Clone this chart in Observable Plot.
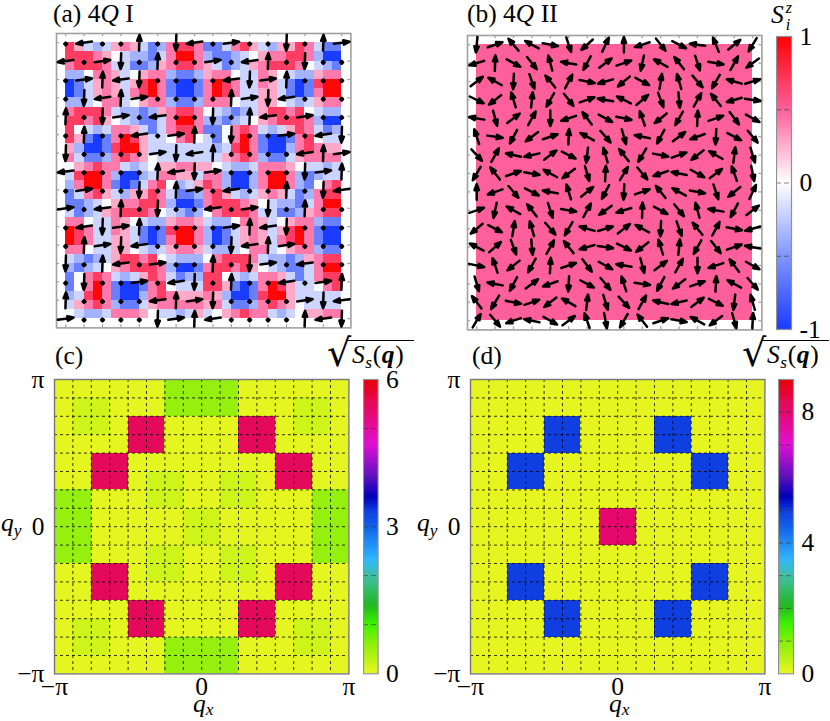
<!DOCTYPE html>
<html>
<head>
<meta charset="utf-8">
<script src="https://cdn.jsdelivr.net/npm/d3@7"></script>
<script src="https://cdn.jsdelivr.net/npm/@observablehq/plot@0.6"></script>
<style>
html,body{margin:0;padding:0;background:#fff;width:830px;height:721px;overflow:hidden}
#fig{position:relative;width:830px;height:721px;font-family:"Liberation Serif",serif;color:#000}
#fig svg{position:absolute;background:transparent;max-width:none}
.t{position:absolute;white-space:nowrap;font-size:25.5px;line-height:1;transform:translateY(-50%)}
.t sub{font-size:.68em;line-height:0;vertical-align:-.28em}
.t sub.x{vertical-align:-.18em}
.t i{font-style:italic}
</style>
</head>
<body>
<div id="fig"></div>
<script>
// ---------- Panel (a): S^z on the refined mesh, one letter per cell, top row first
const szCellsA = [
"GEDCDEFEDBCFGGFBBDFGEDCEEGFDBB",
"GGGFEWDCCBDFHHFCBBCDWEFFGGFCAA",
"FGGGFDDBBCEFGGFEDBCDEFGGGFWDCB",
"CCWFFEDWEFFCBBCEFFWDDFEWDCCEFF",
"ABDEFEDEGHFBAABFHGFDDFEDBABGHH",
"ABDEFEDFGHFBAABFHGFDDEEDBABFHH",
"CCDWFFDWEFFCBBCFFFWDDEEWDCDEFF",
"FGGGFDCCBCEFGGFWDCBCDEGGFGWDCC",
"GGFGEWDCBBDFHHFCCBCDWEFGGGFCAA",
"GWDCDFFEDBDFGGFBBWFGFDCDEGFDBC",
"GEBABFHGEDDWFGWDBWFHFBAABFGWDD",
"ECAABGHHEDDDDDDDCDGHFBAACFGFEE",
"FDBBCFGFEWDDDDDDDEFGFCBBDEFFFF",
"WEFGFFDCDWEEFFEEWDCCDFFFEWDDCD",
"DGHHFCAACDFFEEDFFCAACFHHFCBCDD",
"CFHHFBABDFGWCDEGFCAACFHHFCBWFG",
"BDFGEDCEEGFDBBCFGEDCDEFEDBCFGG",
"BBCDWEFFGGFCAABFGGGFEWDCCBDFHH",
"DBCDEFGGGFWDCBCWFGGGFDDBBCEFGG",
"FFWDDFEWDCCEFFEDCCWFFEDWEFFCBB",
"HGFDDFEDBABGHHFCABDEFEDEGHFBAA",
"HGFDDEEDBABFHHFCABDEFEDFGHFBAA",
"FFWDDEEWDCDEFFEDCCDWFFDWEFFCBB",
"DCBCDEGGFGWDCCCWFGGGFDCCBCEFGG",
"CBCDWEFGGGFCAABFGGFGEWDCBBDFHH",
"BWFGFDCDEGFDBCCGGWDCDFFEDBDFGG",
"BWFHFBAABFGWDDDGGEBABFHGEDDWFG",
"CDGHFBAACFGFEEEFECAABGHHEDDDDD",
"DEFGFCBBDEFFFFFEFDBBCFGFEWDDDD",
"WDCCDFFFEWDDCDEDWEFGFFDCDWEEFF"
];
const szLevels = {A:-1,B:-.62,C:-.36,D:-.2,W:-.02,E:.27,F:.42,G:.68,H:.97};

// Panel (a): in-plane spin per site, "." = mostly out of plane
const spinsA = [
".L..U.DL.R..D.UR","L.RD.U..R.LU.D..",".RULD....LDRU...",".DLUR....URDL...",
"U.DR.L..D.UL.R..",".U..L.RU.D..R.LD","D....RDLU....LUR","L....ULDR....DRU",
".R..D.UR.L..U.DL","R.LU.D..L.RD.U..",".LDRU....RULD...",".URDL....DLUR...",
"D.UL.R..U.DR.L..",".D..R.LD.U..L.RU","U....LURD....RDL","R....DRUL....ULD"
];
const dirAngles = {L:262,R:82,U:2,D:182,".":0};

// Panel (b): uniform S^z and in-plane angle (deg clockwise from up) per site
const szB = 0.5;
const anglesB = [
[186,71,320,299,100,162,228,25, 0,252,142,117,277,338,51,211],
[253,2,119,141,345,280,208,53, 71,192,299,322,162,100,29,234],
[52,299,183,161,321,28,101,254, 230,118,9,344,139,210,286,73],
[116,232,343,6,209,142,71,280, 297,49,160,175,29,321,254,98],
[280,165,53,29,180,252,323,119, 102,341,231,209,3,71,143,119],
[342,98,208,233,71,3,299,139, 164,281,208,53,250,183,118,140],
[137,29,283,257,53,117,187,344, 322,211,101,71,232,300,7,163],
[210,322,71,100,299,233,164,3, 31,140,251,281,119,53,341,169],
[0,251,140,117,281,343,51,208, 183,71,321,299,100,162,231,25],
[71,192,299,322,162,100,29,234, 253,2,119,141,345,280,208,53],
[230,118,9,344,139,210,286,73, 52,299,183,161,321,28,101,254],
[297,49,160,175,29,321,254,98, 116,232,343,6,209,142,71,280],
[102,341,231,209,3,71,143,119, 280,165,53,29,180,252,323,119],
[164,281,208,53,250,183,118,140, 342,98,208,233,71,3,299,139],
[322,211,101,71,232,300,7,163, 137,29,283,257,53,117,187,344],
[31,140,251,281,119,53,341,169, 210,322,71,100,299,233,164,3]
];

// Panels (c), (d): sqrt(S_s(q)) per momentum cell, top row first
const structC = [
"YYYYYYGGGGYYYYYY","YPPYYYGGGGYYYPPY","YPPYRRYYYYRRYPPY","YYYYRRYYYYRRYYYY",
"YYRRYYYYYYYYRRYY","YYRRYPPYYPPYRRYY","GGYYYPPYYPPYYYGG","GGYYYYYPPYYYYYGG",
"GGYYYYYPPYYYYYGG","GGYYYPPYYPPYYYGG","YYRRYPPYYPPYRRYY","YYRRYYYYYYYYRRYY",
"YYYYRRYYYYRRYYYY","YPPYRRYYYYRRYPPY","YPPYYYGGGGYYYPPY","YYYYYYGGGGYYYYYY"
];
const levelsC = {Y:.02,P:.17,G:.55,R:5.5};
const structD = [
"YYYYYYYYYYYYYYYY","YYYYYYYYYYYYYYYY","YYYYBBYYYYBBYYYY","YYYYBBYYYYBBYYYY",
"YYBBYYYYYYYYBBYY","YYBBYYYYYYYYBBYY","YYYYYYYYYYYYYYYY","YYYYYYYRRYYYYYYY",
"YYYYYYYRRYYYYYYY","YYYYYYYYYYYYYYYY","YYBBYYYYYYYYBBYY","YYBBYYYYYYYYBBYY",
"YYYYBBYYYYBBYYYY","YYYYBBYYYYBBYYYY","YYYYYYYYYYYYYYYY","YYYYYYYYYYYYYYYY"
];
const levelsD = {Y:.02,B:4.95,R:8};

// Colour maps
const spinStops = [-1,-.5,0,.5,1];
const spinColors = ["#1a3cff","#8096ff","#ffffff","#ff5f9b","#ff0000"];
const rainbowStops = [0,.1,.17,.23,.33,.385,.5,.55,.6,.67,.78,.89,.92,1];
const rainbowColors = ["#e8f520","#8cf00a","#3cf000","#20b820","#40c0a0","#30b8ff","#1060e8","#0f3fe0","#0000b8","#6010c0","#e010d0","#e5086c","#e5095a","#e60000"];

// Tick labels
const qTicks = [-Math.PI,0,Math.PI];
const qLabels = ["−π","0","π"];

const SERIF = '"Liberation Serif",serif';
const FS = 25.5;
const FRAME = "#a0a0a0";
const fig = document.getElementById("fig");
function place(svg,left,top){svg.style.left=left+"px";svg.style.top=top+"px";fig.appendChild(svg);}
function label(html,left,y){
  const d=document.createElement("div");d.className="t";d.innerHTML=html;
  d.style.left=left+"px";d.style.top=y+"px";fig.appendChild(d);return d;
}

// Arrow with a filled head, drawn through Plot.vector's shape hook
const spinArrow = {draw(ctx,l){
  if(l<5){ctx.moveTo(-1.4,0);ctx.lineTo(0,-1.4);ctx.lineTo(1.4,0);ctx.lineTo(0,1.4);ctx.closePath();return;}
  ctx.moveTo(0,0);ctx.lineTo(0,-l+4);
  ctx.moveTo(-2.2,-l+6);ctx.lineTo(0,-l);ctx.lineTo(2.2,-l+6);ctx.closePath();
}};

const SIZE=294.4, PAD=14;
function sitesFrameMarks(){
  const sites=d3.range(16);
  return [
    Plot.ruleX(sites,{x:d=>d,y1:15.5,y2:15.33,stroke:FRAME,strokeWidth:1.2}),
    Plot.ruleX(sites,{x:d=>d,y1:-.5,y2:-.33,stroke:FRAME,strokeWidth:1.2}),
    Plot.ruleY(sites,{y:d=>d,x1:-.5,x2:-.33,stroke:FRAME,strokeWidth:1.2}),
    Plot.ruleY(sites,{y:d=>d,x1:15.5,x2:15.33,stroke:FRAME,strokeWidth:1.2}),
    Plot.frame({stroke:FRAME,strokeWidth:1.6})
  ];
}
function spinPlot(cells,arrows,sw){
  return Plot.plot({
    width:SIZE+2*PAD,height:SIZE+2*PAD,
    marginTop:PAD,marginBottom:PAD,marginLeft:PAD,marginRight:PAD,
    x:{domain:[-.5,15.5],axis:null},y:{domain:[15.5,-.5],axis:null},
    color:{type:"linear",domain:spinStops,range:spinColors,clamp:true},
    length:{type:"identity"},
    marks:[
      Plot.rect(cells,{x1:"x1",x2:"x2",y1:"y1",y2:"y2",fill:"v",shapeRendering:"crispEdges"}),
      ...sitesFrameMarks(),
      Plot.vector(arrows,{x:"i",y:"j",rotate:"deg",length:"len",anchor:"middle",shape:spinArrow,stroke:"#000",fill:"#000",strokeWidth:sw,strokeLinejoin:"round",strokeLinecap:"round"})
    ]
  });
}
// panel a
const cellsA = szCellsA.flatMap((row,m)=>[...row].map((c,k)=>({x1:k/2,x2:k/2+.5,y1:m/2,y2:m/2+.5,v:szLevels[c]})));
const arrowsA = spinsA.flatMap((row,j)=>[...row].map((c,i)=>({i,j,deg:dirAngles[c],len:c==="."?2.5:15.8})));
place(spinPlot(cellsA,arrowsA,2.5),55.7-PAD,33.3-PAD);
// panel b
const cellsB = [{x1:0,x2:15,y1:0,y2:15,v:szB}];
const arrowsB = anglesB.flatMap((row,j)=>row.map((deg,i)=>({i,j,deg,len:15.5})));
place(spinPlot(cellsB,arrowsB,2.5),467.3-PAD,35.3-PAD);

// colour bars
function colorBar(left,top,h,lo,hi,stops,colors,labelVals,fmt,w,gridVals){
  const levels=d3.range(0,200).map(n=>({a:lo+(hi-lo)*n/200,b:lo+(hi-lo)*(n+1)/200}));
  const m=17;
  const svg=Plot.plot({
    width:w+39,height:h+2*m,marginTop:m,marginBottom:m,marginLeft:0,marginRight:39,
    x:{domain:[0,1],axis:null},y:{domain:[lo,hi]},
    color:{type:"linear",domain:stops,range:colors,clamp:true},
    style:{fontFamily:SERIF,fontSize:FS+"px"},
    marks:[
      Plot.rect(levels,{x1:0,x2:1,y1:"a",y2:"b",fill:d=>(d.a+d.b)/2,shapeRendering:"crispEdges"}),
      Plot.ruleY(gridVals,{stroke:"#333",strokeWidth:.8,strokeDasharray:"5 3",opacity:.75}),
      Plot.frame({stroke:"#909090",strokeWidth:1.2}),
      Plot.axisY({anchor:"right",ticks:labelVals,tickSize:0,tickPadding:8,tickFormat:fmt,fontSize:FS,fontFamily:SERIF,label:null,color:"#000"})
    ]
  });
  place(svg,left,top-m);
}
colorBar(775.7,36,293,-1,1,spinStops,spinColors,[-1,0,1],d=>d===-1?"-1":String(d),15,[-.5,0,.5]);
colorBar(362.7,379,294.3,0,6,rainbowStops.map(f=>f*6),rainbowColors,[0,3,6],String,14.6,[1,2,3,4,5]);
colorBar(778,379,294.3,0,9,rainbowStops.map(f=>f*9),rainbowColors,[0,4,8],String,15,[1,2,3,4,5,6,7,8]);

// panels c, d
function structPlot(left,rows,levels,vmax){
  const dq=2*Math.PI/16;
  const cells=rows.flatMap((row,r)=>[...row].map((c,i)=>({
    x1:-Math.PI+i*dq,x2:-Math.PI+(i+1)*dq,y2:Math.PI-r*dq,y1:Math.PI-(r+1)*dq,v:levels[c]})));
  const inner=d3.range(1,16).map(n=>-Math.PI+n*dq);
  const mL=56,mB=32,mT=16,mR=24;
  const svg=Plot.plot({
    width:294.4+mL+mR,height:294.4+mT+mB,marginLeft:mL,marginRight:mR,marginTop:mT,marginBottom:mB,
    x:{domain:[-Math.PI,Math.PI]},y:{domain:[-Math.PI,Math.PI]},
    color:{type:"linear",domain:rainbowStops.map(f=>f*vmax),range:rainbowColors,clamp:true},
    style:{fontFamily:SERIF,fontSize:FS+"px"},
    marks:[
      Plot.rect(cells,{x1:"x1",x2:"x2",y1:"y1",y2:"y2",fill:"v",shapeRendering:"crispEdges"}),
      Plot.ruleX(inner,{stroke:"#000",strokeWidth:.9,strokeDasharray:"3 3",opacity:.85}),
      Plot.ruleY(inner,{stroke:"#000",strokeWidth:.9,strokeDasharray:"3 3",opacity:.85}),
      Plot.frame({stroke:"#777",strokeWidth:1.4}),
      Plot.axisX({ticks:qTicks,tickSize:0,tickPadding:3,tickFormat:d=>qLabels[qTicks.indexOf(d)],fontSize:FS,fontFamily:SERIF,label:null,color:"#000"}),
      Plot.axisY({ticks:qTicks,tickSize:0,tickPadding:10,tickFormat:d=>qLabels[qTicks.indexOf(d)],fontSize:FS,fontFamily:SERIF,label:null,color:"#000"})
    ]
  });
  place(svg,left-mL,379-mT);
}
structPlot(54,structC,levelsC,6);
structPlot(470,structD,levelsD,9);

// Text
label("(a) 4<i>Q</i> I",53,14);
label("(b) 4<i>Q</i> II",467,14);
label("(c)",55,356);
label("(d)",472,356);
label("<i>S</i><span style='position:relative;display:inline-block;width:10px'><i style='position:absolute;left:2px;top:-23px;font-size:16px'>z</i><i style='position:absolute;left:2px;top:-6px;font-size:16px'>i</i></span>",771,15);
function sqrtLabel(left){
  label("<span style='font-size:38px;position:absolute;left:-3px;top:-22px;font-family:\"DejaVu Serif\"'>√</span><span style='position:absolute;left:16px;top:-16px;border-top:1.3px solid #000;padding:4px 2px 0 6px;width:60px;letter-spacing:.6px;line-height:20px'><i>S</i><sub><i>s</i></sub>(<b><i>q</i></b>)</span>",left,356);
}
sqrtLabel(330);
sqrtLabel(745);
label("<i>q</i><sub><i>y</i></sub>",1,523);
label("<i>q</i><sub><i>y</i></sub>",417,523);
label("<i>q</i><sub class='x'><i>x</i></sub>",193,704);
label("<i>q</i><sub class='x'><i>x</i></sub>",609,704);
</script>
</body>
</html>
